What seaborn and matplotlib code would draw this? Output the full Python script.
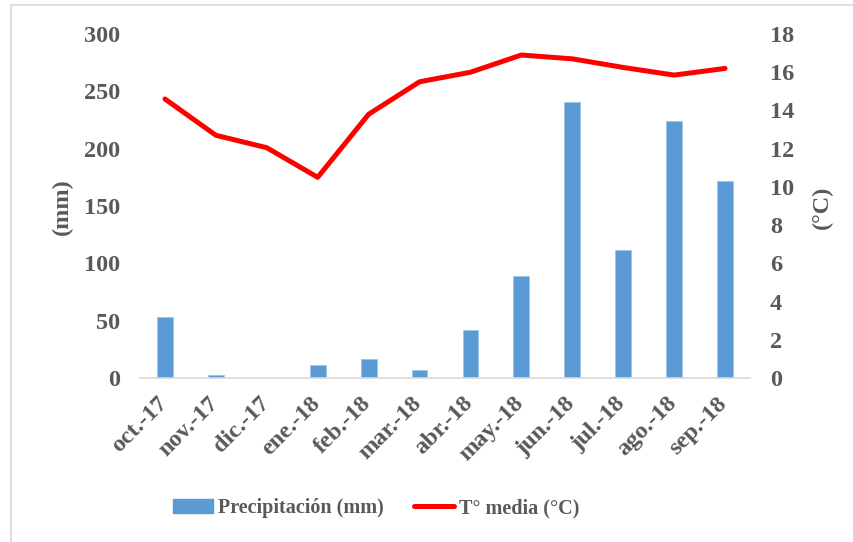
import numpy as np
import pandas as pd
import matplotlib
matplotlib.use("Agg")
import matplotlib.pyplot as plt
import matplotlib.transforms as mtransforms
from matplotlib.lines import Line2D
from matplotlib.patches import Patch
import seaborn as sns

meses = ["oct.-17", "nov.-17", "dic.-17", "ene.-18", "feb.-18", "mar.-18",
         "abr.-18", "may.-18", "jun.-18", "jul.-18", "ago.-18", "sep.-18"]
precipitacion = [53, 3, 0, 11, 17, 7, 42, 89, 241, 112, 224, 172]
temperatura = [14.6, 12.7, 12.05, 10.5, 13.8, 15.5, 16.0, 16.9, 16.7, 16.25, 15.85, 16.2]
ticks_mm = [0, 50, 100, 150, 200, 250, 300]
ticks_c = [0, 2, 4, 6, 8, 10, 12, 14, 16, 18]

sns.set_theme(style="white")
plt.rcParams["font.family"] = ["Liberation Serif", "DejaVu Serif"]
plt.rcParams["font.weight"] = "bold"

GRIS = "#595959"
AZUL = "#5B9BD5"
ROJO = "#FF0000"
FS = 17.5
FS_LEG = 14.5

df = pd.DataFrame({"mes": meses, "pp": precipitacion, "t": temperatura})

fig = plt.figure(figsize=(8.54, 5.42), dpi=100)
ax = fig.add_axes([139.5 / 854, 1 - 378 / 542, 611 / 854, 344 / 542])

sns.barplot(data=df, x="mes", y="pp", color=AZUL, width=0.31, saturation=1,
            edgecolor="#9DC3E6", linewidth=0.6, ax=ax)
ax.set_xlim(-0.5, len(meses) - 0.5)
ax.set_ylim(0, 300)
ax.set_yticks(ticks_mm)
ax.set_yticklabels([str(v) for v in ticks_mm])

ax2 = ax.twinx()
sns.lineplot(x=np.arange(len(meses)), y=df["t"], color=ROJO, linewidth=3.6,
             solid_capstyle="round", solid_joinstyle="round", ax=ax2)
ax2.set_ylim(0, 18)
ax2.set_yticks(ticks_c)
ax2.set_yticklabels([str(v) for v in ticks_c])
ax2.set_xlim(-0.5, len(meses) - 0.5)

for a in (ax, ax2):
    for s in a.spines.values():
        s.set_visible(False)
    a.grid(False)
    a.set_xlabel("")
    a.set_ylabel("")
    a.tick_params(axis="y", length=0, labelsize=FS, labelcolor=GRIS, pad=14)

ax.spines["bottom"].set_visible(True)
ax.spines["bottom"].set_color("#D9D9D9")
ax.spines["bottom"].set_linewidth(1.2)

# category separators as ticks on the x axis
ax.set_xticks(np.arange(-0.5, len(meses), 1.0), minor=True)
ax.tick_params(axis="x", which="minor", length=5, color="#D9D9D9", width=1.2, direction="out")
ax.set_xticks(np.arange(len(meses)))
ax.set_xticklabels(meses, rotation=45, ha="right", va="center", rotation_mode="anchor")
ax.tick_params(axis="x", which="major", length=0, labelsize=FS, labelcolor=GRIS, pad=16)
shift = mtransforms.ScaledTranslation(-1 / 100, 0, fig.dpi_scale_trans)
for lab in ax.get_xticklabels():
    lab.set_transform(lab.get_transform() + shift)
for lab in ax.get_xticklabels() + ax.get_yticklabels() + ax2.get_yticklabels():
    lab.set_fontweight("bold")

fig.text(62 / 854, 1 - 207 / 542, "(mm)", rotation=90, ha="center", va="center",
         fontsize=FS, color=GRIS, fontweight="bold")
fig.text(822 / 854, 1 - 207 / 542, "(°C)", rotation=90, ha="center", va="center",
         fontsize=FS, color=GRIS, fontweight="bold")

handles = [Patch(facecolor=AZUL, edgecolor=AZUL),
           Line2D([0], [0], color=ROJO, linewidth=3.6, solid_capstyle="round")]
fig.legend(handles, ["Precipitación (mm)", "T° media (°C)"], loc="center",
           bbox_to_anchor=(376 / 854, 1 - 508 / 542), ncol=2, frameon=False,
           prop={"size": FS_LEG, "weight": "bold"}, labelcolor=GRIS,
           handlelength=2.0, handleheight=0.65, columnspacing=1.5, handletextpad=0.25)

# thin frame on the top and left of the chart area
fig.add_artist(Line2D([11 / 854, 11 / 854], [0, 1 - 5 / 542], color="#D9D9D9", linewidth=1.2,
                      transform=fig.transFigure))
fig.add_artist(Line2D([11 / 854, 1], [1 - 5 / 542, 1 - 5 / 542], color="#D9D9D9", linewidth=1.2,
                      transform=fig.transFigure))

fig.savefig("out.png", dpi=100, facecolor="white")
